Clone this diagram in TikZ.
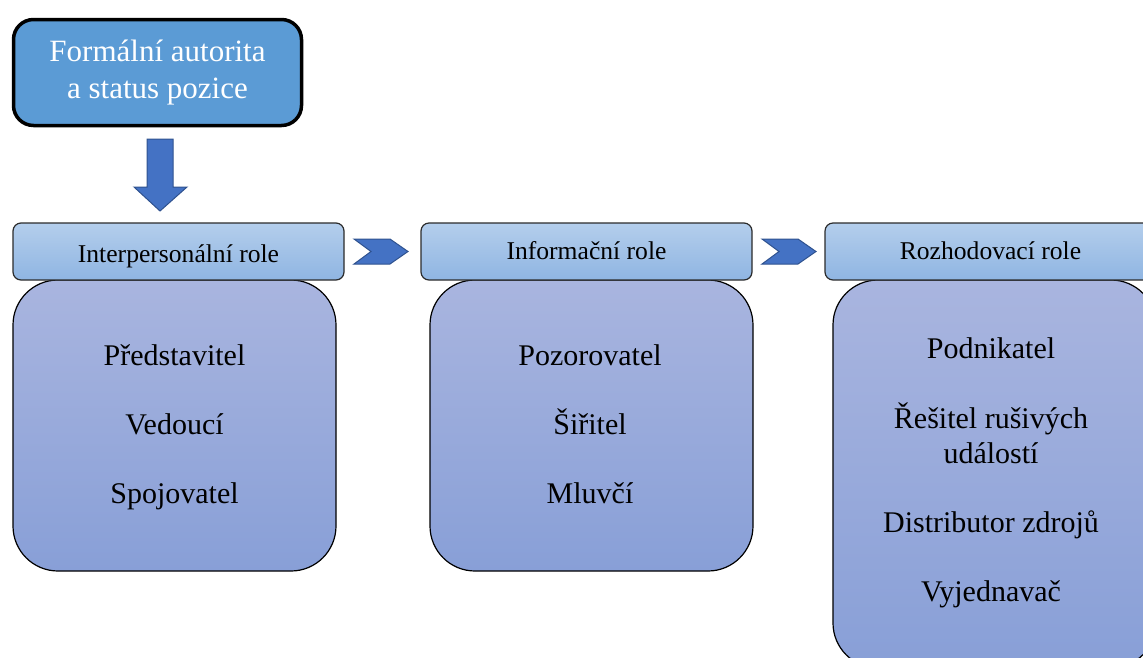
\documentclass[tikz,border=0pt]{standalone}
\usepackage{fontspec}
\setmainfont{Liberation Serif}
\usetikzlibrary{positioning}
\definecolor{topblue}{HTML}{5B9BD5}
\definecolor{arrowblue}{HTML}{4472C4}
\definecolor{arrowline}{HTML}{2F528F}
\definecolor{headtop}{HTML}{B4CEEC}
\definecolor{headbot}{HTML}{8FB5E2}
\definecolor{headline}{HTML}{2B2B2B}
\definecolor{roletop}{HTML}{A9B5DF}
\definecolor{rolebot}{HTML}{889FD7}
\tikzset{
  topbox/.style={draw=black,line width=3.5pt,fill=topblue,rounded corners=20pt,
    text=white,font=\fontsize{31}{37}\selectfont,align=center,
    minimum width=288pt,minimum height=106pt,inner sep=0pt},
  headbox/.style={draw=headline,line width=1.2pt,rounded corners=8pt,
    top color=headtop,bottom color=headbot,minimum width=331pt,minimum height=57pt,
    inner sep=0pt,text height=19pt,text depth=4pt,font=\fontsize{25.6}{30}\selectfont},
  rolebox/.style={draw=black,line width=1.2pt,rounded corners=45pt,
    top color=roletop,bottom color=rolebot,minimum width=323pt,minimum height=291pt},
  roleitem/.style={font=\fontsize{30}{35}\selectfont,align=center,anchor=base,inner sep=0pt},
  blockarrow/.style={fill=arrowblue,draw=arrowline,line width=1pt,line join=miter}
}
\begin{document}
\begin{tikzpicture}[x=1pt,y=-1pt]
  \useasboundingbox (0,0) rectangle (1143,657);

  %--- Source of authority ----------------------------------------------------
  \node[topbox] (auth) at (157.5,72.5) {Formální autorita\\a status pozice};
  \draw[blockarrow] (147,139) -- (173,139) -- (173,187) -- (187,187)
    -- (160,211) -- (134,187) -- (147,187) -- cycle;

  %--- Role bodies ------------------------------------------------------------
  \node[rolebox] (inter) at (174.5,425.5) {};
  \node[rolebox] (info)  at (591.5,425.5) {};
  \node[rolebox,minimum height=388pt] (deci) at (994.5,474) {};

  %--- Role headers -----------------------------------------------------------
  \node[headbox,text height=25pt] (interH) at (178.5,251.5) {Interpersonální role};
  \node[headbox] (infoH)  at (586.5,251.5) {Informační role};
  \node[headbox] (deciH)  at (990.5,251.5) {Rozhodovací role};

  \foreach \dx in {0,408}
    \draw[blockarrow,xshift=\dx pt] (354,239) -- (390,239) -- (408,251.5)
      -- (390,264) -- (354,264) -- (371,251.5) -- cycle;

  %--- Roles ------------------------------------------------------------------
  \node[roleitem] (rep)  at (174.5,365) {Představitel};
  \node[roleitem] (lead) at (174.5,434) {Vedoucí};
  \node[roleitem] (liai) at (174.5,503) {Spojovatel};

  \node[roleitem] (moni) at (590,365) {Pozorovatel};
  \node[roleitem] (diss) at (590,434) {Šiřitel};
  \node[roleitem] (spok) at (590,503) {Mluvčí};

  \node[roleitem] (entr) at (991,358) {Podnikatel};
  \node[roleitem,anchor=center] (dist) at (991,433) {Řešitel rušivých\\událostí};
  \node[roleitem] (reso) at (991,532) {Distributor zdrojů};
  \node[roleitem] (nego) at (991,601) {Vyjednavač};
\end{tikzpicture}
\end{document}
